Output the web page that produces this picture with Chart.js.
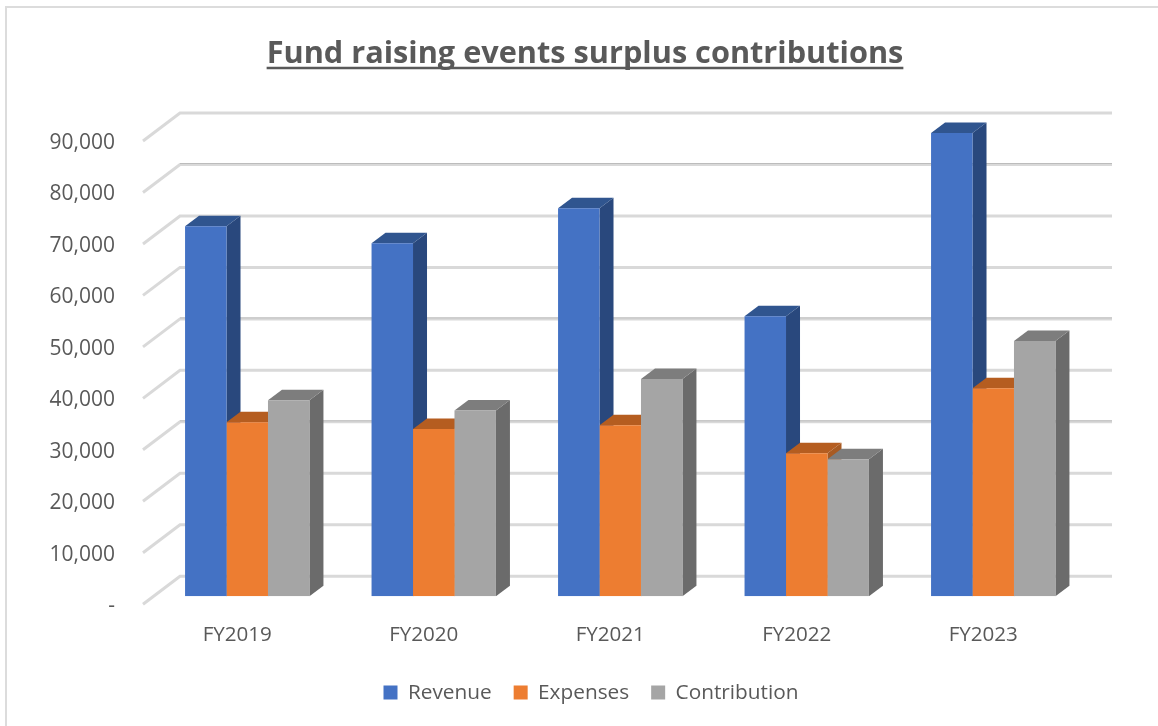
<!DOCTYPE html>
<html>
<head>
<meta charset="utf-8">
<title>Fund raising events surplus contributions</title>
<script src="https://cdn.jsdelivr.net/npm/chart.js@4"></script>
<style>
  html, body { margin: 0; padding: 0; background: #fff; }
  canvas { display: block; }
</style>
</head>
<body>
<canvas id="grafico" width="1158" height="726"></canvas>
<script>
const fyLabels = ["FY2019", "FY2020", "FY2021", "FY2022", "FY2023"];
const revenue = [71900, 68600, 75400, 54400, 90000];
const expenses = [33800, 32500, 33200, 27800, 40400];
const contribution = [38100, 36100, 42200, 26600, 49600];
const yTickLabels = ["-", "10,000", "20,000", "30,000", "40,000", "50,000", "60,000", "70,000", "80,000", "90,000"];
const darkEdgeTicks = [30000, 50000, 80000];

const FONT = "'Open Sans', sans-serif";
const TEXT = "#595959";
const GRID = "#d9d9d9";

// caras laterales y superiores de cada serie
const caras = [
  { front: "#4472c4", side: "#29487d", top: "#30558f" },
  { front: "#ed7d31", side: "#a85a22", top: "#b55d20" },
  { front: "#a5a5a5", side: "#6b6b6b", top: "#7d7d7d" }
];

// profundidad del efecto 3D
const BAR_DX = 14, BAR_DY = 10.5;
const WALL_DX = 26, WALL_DY = 20;
const FLOOR_DX = 11, FLOOR_DY = 8;
const WALL_END = 1112;

// marco: solo izquierda y arriba
const marco = {
  id: "marco",
  beforeDraw(chart) {
    const { ctx, width, height } = chart;
    ctx.save();
    ctx.fillStyle = "#fff";
    ctx.fillRect(0, 0, width, height);
    ctx.strokeStyle = "#dcdcdc";
    ctx.lineWidth = 2;
    ctx.beginPath();
    ctx.moveTo(6, height);
    ctx.lineTo(6, 7);
    ctx.lineTo(width, 7);
    ctx.stroke();
    ctx.restore();
  },
  afterLayout(chart) {
    // la leyenda va un poco a la derecha del título
    chart.legend.left += 6;
    chart.legend.right += 6;
  }
};

// rejilla en perspectiva (pared y piso)
const rejilla3d = {
  id: "rejilla3d",
  beforeDatasetsDraw(chart) {
    const { ctx, chartArea } = chart;
    const y = chart.scales.y;
    ctx.save();
    y.ticks.forEach((t) => {
      const py = y.getPixelForValue(t.value);
      const x0 = chartArea.left - FLOOR_DX;
      const xb = chartArea.left + WALL_DX;
      ctx.strokeStyle = GRID;
      ctx.lineWidth = 3;
      ctx.beginPath();
      ctx.moveTo(x0, py + FLOOR_DY);
      ctx.lineTo(xb, py - WALL_DY);
      ctx.lineTo(WALL_END, py - WALL_DY);
      ctx.stroke();
      if (darkEdgeTicks.includes(t.value)) {
        ctx.strokeStyle = "#bcbcbc";
        ctx.lineWidth = 1;
        ctx.beginPath();
        ctx.moveTo(xb, py - WALL_DY - 1);
        ctx.lineTo(WALL_END, py - WALL_DY - 1);
        ctx.stroke();
      }
    });
    ctx.restore();
  }
};

// laterales y tapas; el frente lo pinta Chart.js encima
const barras3d = {
  id: "barras3d",
  beforeDatasetsDraw(chart) {
    const { ctx } = chart;
    const n = fyLabels.length;
    for (let j = 0; j < n; j++) {
      chart.data.datasets.forEach((ds, i) => {
        const bar = chart.getDatasetMeta(i).data[j];
        const left = bar.x - bar.width / 2;
        const right = bar.x + bar.width / 2;
        ctx.fillStyle = caras[i].side;
        ctx.beginPath();
        ctx.moveTo(right, bar.y);
        ctx.lineTo(right + BAR_DX, bar.y - BAR_DY);
        ctx.lineTo(right + BAR_DX, bar.base - BAR_DY);
        ctx.lineTo(right, bar.base);
        ctx.closePath();
        ctx.fill();
        ctx.fillStyle = caras[i].top;
        ctx.beginPath();
        ctx.moveTo(left, bar.y);
        ctx.lineTo(left + BAR_DX, bar.y - BAR_DY);
        ctx.lineTo(right + BAR_DX, bar.y - BAR_DY);
        ctx.lineTo(right, bar.y);
        ctx.closePath();
        ctx.fill();
      });
    }
  }
};

// subrayado del título
const subrayado = {
  id: "subrayado",
  afterDraw(chart) {
    const { ctx } = chart;
    const t = chart.options.plugins.title;
    const box = chart.titleBlock;
    ctx.save();
    ctx.font = "bold " + t.font.size + "px " + FONT;
    const w = ctx.measureText(t.text).width;
    const cx = (box.left + box.right) / 2;
    ctx.strokeStyle = TEXT;
    ctx.lineWidth = 2.5;
    ctx.beginPath();
    ctx.moveTo(cx - w / 2, 68);
    ctx.lineTo(cx + w / 2, 68);
    ctx.stroke();
    ctx.restore();
  }
};

new Chart(document.getElementById("grafico"), {
  type: "bar",
  data: {
    labels: fyLabels,
    datasets: [
      { label: "Revenue", data: revenue, backgroundColor: caras[0].front },
      { label: "Expenses", data: expenses, backgroundColor: caras[1].front },
      { label: "Contribution", data: contribution, backgroundColor: caras[2].front }
    ]
  },
  options: {
    responsive: false,
    animation: false,
    categoryPercentage: 0.667,
    barPercentage: 1,
    layout: { padding: { left: 12, bottom: 13 } },
    plugins: {
      title: {
        display: true,
        text: "Fund raising events surplus contributions",
        color: TEXT,
        font: { family: FONT, size: 30.7, weight: "bold", lineHeight: 1.2 },
        padding: { top: 36, bottom: 60.2 }
      },
      legend: {
        position: "bottom",
        labels: {
          color: TEXT,
          font: { family: FONT, size: 20.8 },
          boxWidth: 14,
          boxHeight: 14,
          padding: 22
        }
      },
      tooltip: { enabled: false }
    },
    scales: {
      x: {
        grid: { display: false, drawTicks: false },
        border: { display: false },
        ticks: { color: TEXT, font: { family: FONT, size: 20.6 }, padding: 27, labelOffset: -10, maxRotation: 0 },
        afterFit(scale) { scale.height = 64; }
      },
      y: {
        min: 0,
        max: 90000,
        grid: { display: false, drawTicks: false },
        border: { display: false },
        ticks: {
          stepSize: 10000,
          color: TEXT,
          font: { family: FONT, size: 21 },
          padding: 39,
          labelOffset: 10,
          callback: (value, index) => yTickLabels[index]
        },
        afterFit(scale) { scale.width = 142; }
      },
      // eje vacío: reserva el margen derecho sin descentrar título y leyenda
      margen: {
        position: "right",
        grid: { display: false, drawTicks: false },
        border: { display: false },
        ticks: { display: false },
        afterFit(scale) { scale.width = 71.5; }
      }
    }
  },
  plugins: [marco, rejilla3d, barras3d, subrayado]
});
</script>
</body>
</html>
